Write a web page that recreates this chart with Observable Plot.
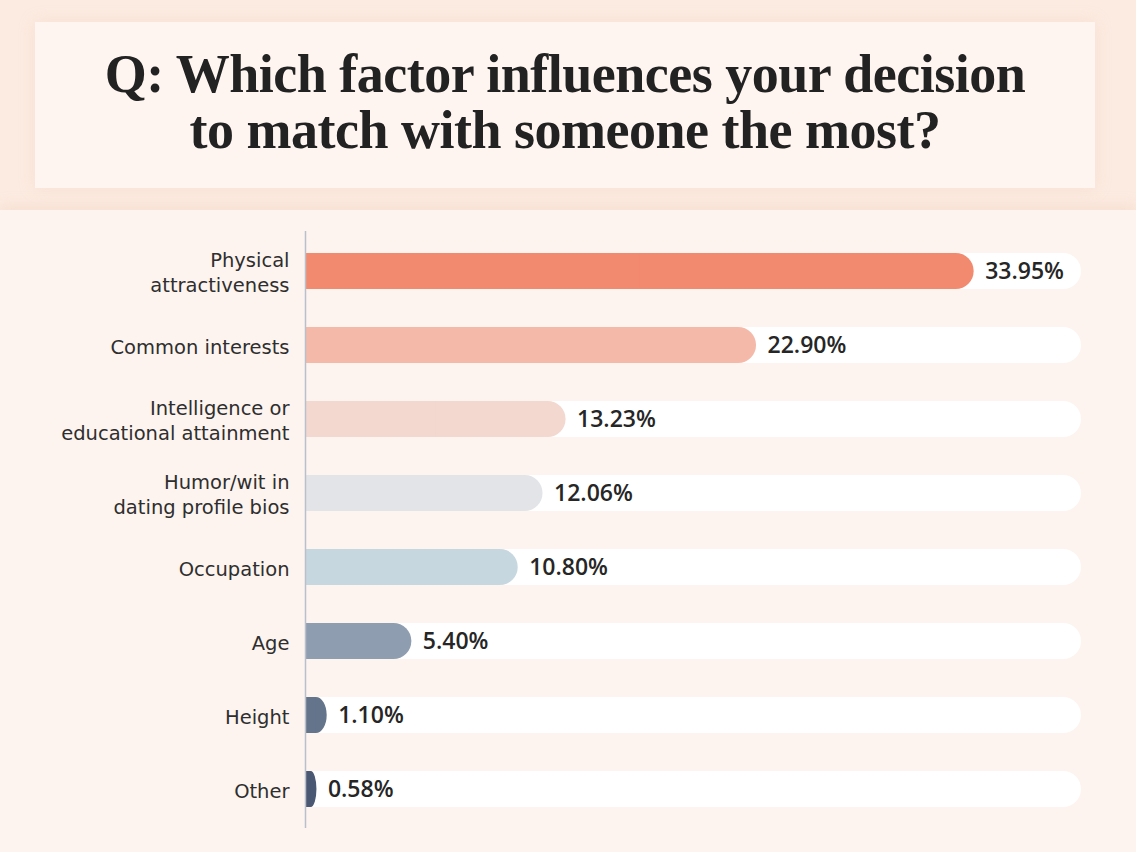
<!DOCTYPE html>
<html>
<head>
<meta charset="utf-8">
<script src="https://cdn.jsdelivr.net/npm/d3@7"></script>
<script src="https://cdn.jsdelivr.net/npm/@observablehq/plot@0.6"></script>
<style>
  html, body { margin: 0; padding: 0; }
  body { width: 1136px; height: 852px; background: #fcebe1; position: relative; overflow: hidden; font-family: "Open Sans", sans-serif; }
  #titlebox { position: absolute; left: 35px; top: 22px; width: 1060px; height: 166px; background: #fef5f1;
    box-shadow: 0 0 14px rgba(240,200,180,0.35); display: flex; align-items: center; justify-content: center; }
  #titlebox h1 { margin: 0 0 6px 0; text-align: center; font-family: "Liberation Serif", serif; font-weight: 700; font-size: 54px; line-height: 56px; color: #222; letter-spacing: -0.5px; }
  #panel { position: absolute; left: 0; top: 210px; width: 1136px; height: 642px; background: #fdf4ef; box-shadow: 0 -4px 12px rgba(240,200,180,0.35); }
</style>
</head>
<body>
<div id="titlebox"><h1>Q: Which factor influences your decision<br>to match with someone the most?</h1></div>
<div id="panel"></div>
<script>
const factors = ["Physical\nattractiveness", "Common interests", "Intelligence or\neducational attainment", "Humor/wit in\ndating profile bios", "Occupation", "Age", "Height", "Other"];
const shares = [33.95, 22.90, 13.23, 12.06, 10.80, 5.40, 1.10, 0.58];
const barColors = ["#f28a6f", "#f4b9a8", "#f2d8cf", "#e3e4e8", "#c6d7df", "#8f9db0", "#64748b", "#4a5873"];
const labels = ["33.95%", "22.90%", "13.23%", "12.06%", "10.80%", "5.40%", "1.10%", "0.58%"];
const trackMax = 39.4;

const rows = factors.map((f, i) => ({factor: f, share: shares[i], color: barColors[i], label: labels[i], track: trackMax}));

const chart = Plot.plot({
  width: 1136,
  height: 642,
  marginLeft: 305,
  marginRight: 55,
  marginTop: 21,
  marginBottom: 24,
  style: {background: "transparent", fontFamily: "Open Sans, sans-serif"},
  x: {domain: [0, trackMax], axis: null},
  y: {domain: factors, paddingInner: 0.52, paddingOuter: 0.26, axis: null},
  marks: [
    Plot.barX(rows, {y: "factor", x1: 0, x2: "track", fill: "#ffffff", rx: 18}),
    Plot.barX(rows, {y: "factor", x1: 0, x2: d => d.track / 2, fill: "#ffffff"}),
    Plot.barX(rows, {y: "factor", x1: 0, x2: "share", fill: d => d.color, rx: 18}),
    Plot.barX(rows, {y: "factor", x1: 0, x2: d => d.share / 2, fill: d => d.color}),
    Plot.ruleX([0], {stroke: "#b9bfcb", strokeWidth: 1.5}),
    Plot.text(rows, {y: "factor", x: "share", text: "label", dx: 11, textAnchor: "start", fontSize: 23, fontWeight: 600, fill: "#262626", style: "letter-spacing: 0.8px"}),
    Plot.text(rows, {y: "factor", x: 0, text: "factor", dx: -16, textAnchor: "end", fontSize: 19.5, lineHeight: 1.3, fill: "#2e2e2e", fontFamily: "DejaVu Sans, sans-serif", style: "letter-spacing: 0.2px"})
  ]
});
document.getElementById("panel").appendChild(chart);
</script>
</body>
</html>
